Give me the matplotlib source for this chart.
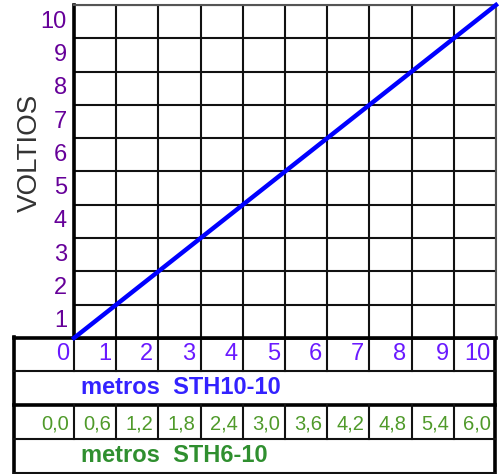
import matplotlib
matplotlib.use('Agg')
import matplotlib.pyplot as plt
import matplotlib.transforms as mtransforms

plt.rcParams['font.family'] = ['Liberation Sans', 'DejaVu Sans']

# datos del grafico
metros_sth10 = [0, 1, 2, 3, 4, 5, 6, 7, 8, 9, 10]
voltios = [0, 1, 2, 3, 4, 5, 6, 7, 8, 9, 10]
metros_sth6 = ['0,0', '0,6', '1,2', '1,8', '2,4', '3,0', '3,6', '4,2', '4,8', '5,4', '6,0']
etiq_voltios = ['1', '2', '3', '4', '5', '6', '7', '8', '9', '10']

W, H = 504, 474
fig = plt.figure(figsize=(W / 100, H / 100), dpi=100)

# eje "papel" en pixeles para la tabla de abajo
ov = fig.add_axes([0, 0, 1, 1])
ov.set_xlim(0, W)
ov.set_ylim(H, 0)
ov.axis('off')

# grafico principal
x0, x1, y0, y1 = 74, 496, 5, 338
ax = fig.add_axes([x0 / W, (H - y1) / H, (x1 - x0) / W, (y1 - y0) / H])
ax.set_xlim(0, 10)
ax.set_ylim(0, 10)
ax.set_xticks(range(11))
ax.set_yticks(range(11))
ax.tick_params(length=0, labelbottom=False, labelleft=False)
ax.grid(True, color='#111111', lw=1.5)
for s in ['top', 'right']:
    ax.spines[s].set_color('#555555')
    ax.spines[s].set_linewidth(1.5)
for s in ['left', 'bottom']:
    ax.spines[s].set_color('black')
    ax.spines[s].set_linewidth(2.6)
ax.plot(metros_sth10, voltios, color='#0000ff', lw=3.2, clip_on=False, zorder=5)

# etiquetas eje Y (centradas en la fila debajo de la linea)
trY = mtransforms.blended_transform_factory(ov.transData, ax.transData)
for i, t in enumerate(etiq_voltios):
    ov.text(67, i + 0.5, t, transform=trY, ha='right', va='center',
            fontsize=17, color='#660099')
ov.text(30, 153, 'VOLTIOS', rotation=90, ha='center', va='center',
        fontsize=20, color='#333333')

# tabla
trX = mtransforms.blended_transform_factory(ax.transData, ov.transData)
xl, xr = 14, 495
ov.plot([xl, xl], [337, 473], color='black', lw=2.6)
ov.plot([xr, xr], [337, 473], color='black', lw=2.6)
ov.plot([xl, xr], [337.5, 337.5], color='black', lw=2.6)
ov.plot([xl, xr], [371, 371], color='#111111', lw=1.5)
ov.plot([xl, xr], [405, 405], color='black', lw=2.6)
ov.plot([xl, xr], [439, 439], color='#111111', lw=1.5)
ov.plot([xl, xr], [473, 473], color='#111111', lw=1.5)
for k in metros_sth10[:-1]:
    ov.plot([k, k], [337, 371], color='#111111', lw=1.5, transform=trX)
    ov.plot([k, k], [405, 439], color='#111111', lw=1.5, transform=trX)

off = mtransforms.offset_copy(trX, fig=fig, x=-5, y=0, units='dots')
for k, t in zip(metros_sth10, metros_sth6):
    ov.text(k, 354, str(k), transform=off, ha='right', va='center',
            fontsize=17, color='#6a1aff')
    ov.text(k, 424, t, transform=off, ha='right', va='center',
            fontsize=14.5, color='#4f9a2a')

ov.text(81, 388, 'metros  STH10-10', ha='left', va='center', fontsize=17,
        fontweight='bold', color='#3322ff')
ov.text(81, 456, 'metros  STH6-10', ha='left', va='center', fontsize=17,
        fontweight='bold', color='#2f8f2f')

fig.savefig('out.png', dpi=100)
